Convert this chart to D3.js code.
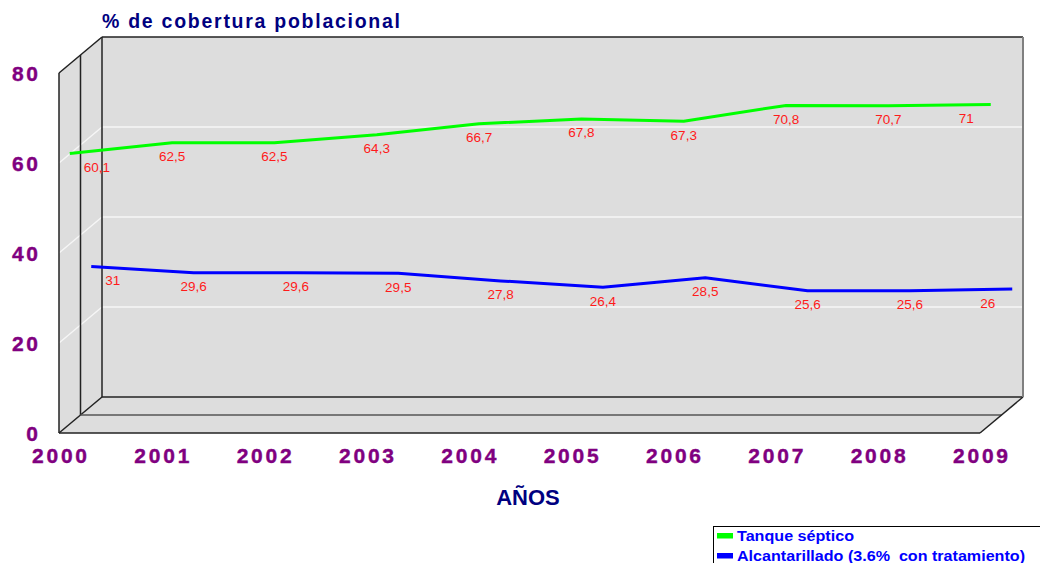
<!DOCTYPE html>
<html>
<head>
<meta charset="utf-8">
<script src="https://cdn.jsdelivr.net/npm/d3@7"></script>
<style>
  html, body { margin: 0; padding: 0; background: #ffffff; }
  svg { display: block; }
</style>
</head>
<body>
<div id="chart"></div>
<script>
// ---- data ----
const years = ["2000","2001","2002","2003","2004","2005","2006","2007","2008","2009"];
const tanqueSeptico = [60.1, 62.5, 62.5, 64.3, 66.7, 67.8, 67.3, 70.8, 70.7, 71];
const alcantarillado = [31, 29.6, 29.6, 29.5, 27.8, 26.4, 28.5, 25.6, 25.6, 26];
const yTicks = [0, 20, 40, 60, 80];
const gridValues = [20, 40, 60];
const seriesNames = ["Tanque séptico", "Alcantarillado (3.6%  con tratamiento)"];
const titleText = "% de cobertura poblacional";
const xTitle = "AÑOS";

// ---- layout ----
const W = 1040, H = 563;
const DX = 43, DY = -36;           // depth vector of the 3D box
const FONT = "Liberation Sans, Arial, sans-serif";
const svg = d3.select("#chart").append("svg").attr("width", W).attr("height", H);

const x = d3.scalePoint().domain(years).range([59, 980]);
const y = d3.scaleLinear().domain([0, 80]).range([433, 73]);

const x0 = x.range()[0], x1 = x.range()[1];
const yb = y(0), yt = y(80);
const wallFill = "#dddddd";

// walls
svg.append("polygon")
  .attr("points", [[x0, yb], [x0, yt], [x0 + DX, yt + DY], [x0 + DX, yb + DY]].join(" "))
  .attr("fill", wallFill);
svg.append("rect")
  .attr("x", x0 + DX).attr("y", yt + DY)
  .attr("width", x1 - x0).attr("height", yb - yt)
  .attr("fill", wallFill);
svg.append("polygon")
  .attr("points", [[x0, yb], [x1, yb], [x1 + DX, yb + DY], [x0 + DX, yb + DY]].join(" "))
  .attr("fill", wallFill);

// gridlines
const grid = svg.append("g").attr("stroke", "#f6f6f6").attr("stroke-width", 1.5);
gridValues.forEach(v => {
  grid.append("line").attr("x1", x0 + DX).attr("x2", x1 + DX)
    .attr("y1", y(v) + DY).attr("y2", y(v) + DY);
  grid.append("line").attr("x1", x0).attr("x2", x0 + DX)
    .attr("y1", y(v)).attr("y2", y(v) + DY);
});

// edges
const edges = svg.append("g").attr("stroke", "#222").attr("stroke-width", 1.5).attr("fill", "none");
const e = (a, b, c, d) => edges.append("line").attr("x1", a).attr("y1", b).attr("x2", c).attr("y2", d);
e(x0, yt, x0, yb);
e(x0 + DX / 2, yt + DY / 2, x0 + DX / 2, yb + DY / 2);
e(x0 + DX, yt + DY, x0 + DX, yb + DY);
e(x0, yt, x0 + DX, yt + DY);
e(x0 + DX, yt + DY, x1 + DX, yt + DY);
e(x0, yb, x0 + DX, yb + DY);
e(x0 + DX, yb + DY, x1 + DX, yb + DY);
e(x0 + DX / 2, yb + DY / 2, x1 + DX / 2, yb + DY / 2).attr("stroke", "#555");
e(x0, yb, x1, yb);
e(x1, yb, x1 + DX, yb + DY);
svg.append("line").attr("x1", x1 + DX).attr("x2", x1 + DX)
  .attr("y1", yt + DY).attr("y2", yb + DY)
  .attr("stroke", "#808080").attr("stroke-width", 2);

// series
const series = [
  { name: seriesNames[0], values: tanqueSeptico, color: "#00ff00", depth: 0.25, legendLen: 117 },
  { name: seriesNames[1], values: alcantarillado, color: "#0000ff", depth: 0.75, legendLen: 288 }
];
const fmt = v => String(v).replace(".", ",");

series.forEach(s => {
  const ox = DX * s.depth, oy = DY * s.depth;
  const line = d3.line()
    .x((d, i) => x(years[i]) + ox)
    .y(d => y(d) + oy);
  svg.append("path").datum(s.values)
    .attr("d", line)
    .attr("fill", "none")
    .attr("stroke", s.color)
    .attr("stroke-width", 3)
    .attr("stroke-linejoin", "round");

  const n = s.values.length;
  svg.append("g").selectAll("text").data(s.values).join("text")
    .attr("x", (d, i) => x(years[i]) + ox + (i === 0 ? 14 : i === n - 1 ? -17 : 0))
    .attr("y", d => y(d) + oy + 18.5)
    .attr("text-anchor", (d, i) => i === 0 ? "start" : i === n - 1 ? "end" : "middle")
    .attr("font-family", FONT)
    .attr("font-size", 13.5)
    .attr("fill", "#ff1a1a")
    .text(d => fmt(d));
});

// y axis (front edge)
const yAxis = svg.append("g")
  .attr("transform", `translate(${x0},0)`)
  .call(d3.axisLeft(y).tickValues(yTicks).tickSize(0).tickPadding(21));
yAxis.select(".domain").remove();
yAxis.selectAll("text")
  .attr("dy", "0.36em")
  .attr("font-family", FONT)
  .attr("font-size", 21)
  .attr("font-weight", "bold")
  .attr("fill", "#800080")
  .attr("stroke", "#800080")
  .attr("stroke-width", 0.4)
  .each(function(d) { if (String(d).length > 1) d3.select(this).attr("textLength", 26).attr("lengthAdjust", "spacing"); });

// x axis
const xAxis = svg.append("g")
  .attr("transform", `translate(0,${yb})`)
  .call(d3.axisBottom(x).tickSize(0).tickPadding(15));
xAxis.select(".domain").remove();
xAxis.selectAll("text")
  .attr("dy", "0.71em")
  .attr("font-family", FONT)
  .attr("font-size", 21)
  .attr("font-weight", "bold")
  .attr("fill", "#800080")
  .attr("stroke", "#800080")
  .attr("stroke-width", 0.4)
  .attr("textLength", 55)
  .attr("lengthAdjust", "spacing");

// title
svg.append("text")
  .attr("x", 102).attr("y", 28)
  .attr("font-family", FONT)
  .attr("font-size", 19.5)
  .attr("font-weight", "bold")
  .attr("textLength", 298)
  .attr("lengthAdjust", "spacing")
  .attr("fill", "#000080")
  .text(titleText);

// x title
svg.append("text")
  .attr("x", 528).attr("y", 505)
  .attr("text-anchor", "middle")
  .attr("font-family", FONT)
  .attr("font-size", 22)
  .attr("font-weight", "bold")
  .attr("fill", "#000080")
  .text(xTitle);

// legend
const lg = svg.append("g");
lg.append("rect").attr("x", 713.5).attr("y", 526.5).attr("width", 340).attr("height", 60)
  .attr("fill", "#ffffff").attr("stroke", "#000").attr("stroke-width", 1);
series.forEach((s, i) => {
  const yy = 533 + i * 20;
  lg.append("rect").attr("x", 717).attr("y", yy).attr("width", 16).attr("height", 5.5).attr("fill", s.color);
  lg.append("text").attr("x", 737).attr("y", yy + 8)
    .attr("font-family", FONT)
    .attr("font-size", 14.5)
    .attr("font-weight", "bold")
    .attr("fill", "#0000ff")
    .attr("textLength", s.legendLen)
    .attr("lengthAdjust", "spacingAndGlyphs")
    .attr("xml:space", "preserve")
    .text(s.name);
});
</script>
</body>
</html>
